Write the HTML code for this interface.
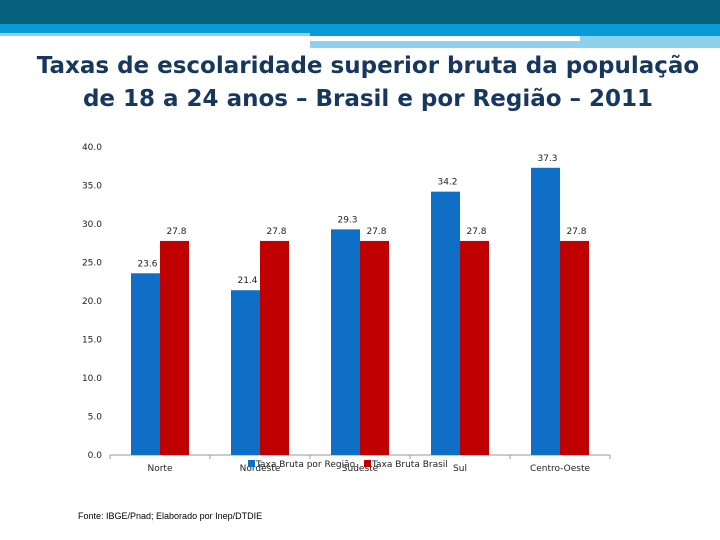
<!DOCTYPE html>
<html><head><meta charset="utf-8"><style>
body{margin:0;width:720px;height:540px;background:#fff;overflow:hidden;position:relative;font-family:"DejaVu Sans","Liberation Sans",sans-serif}
.t{position:absolute;left:8px;width:720px;text-align:center;color:#17375e;font-size:23px;font-weight:bold;letter-spacing:0px}
</style></head><body>
<div style="position:absolute;left:0;top:0;width:720px;height:24px;background:#05607b"></div>
<div style="position:absolute;left:0;top:24px;width:720px;height:9px;background:#0a9bd6"></div>
<div style="position:absolute;left:0;top:33px;width:310px;height:3px;background:#8fd0ec"></div>
<div style="position:absolute;left:310px;top:33px;width:410px;height:3px;background:#0a9bd6"></div>
<div style="position:absolute;left:310px;top:41px;width:270px;height:7px;background:#8fd0ec"></div>
<div style="position:absolute;left:580px;top:36px;width:140px;height:12px;background:#8fd0ec"></div>
<div style="position:absolute;left:310px;top:37px;width:175px;height:3px;background:#fff"></div>
<div class="t" style="top:53px">Taxas de escolaridade superior bruta da população</div>
<div class="t" style="top:86px">de 18 a 24 anos – Brasil e por Região – 2011</div>
<svg id="c" width="720" height="540" style="position:absolute;left:0;top:0"></svg>
<div style="position:absolute;left:78px;top:511px;font-family:'Liberation Sans',sans-serif;font-size:9px;color:#000">Fonte: IBGE/Pnad; Elaborado por Inep/DTDIE</div>
<script>
const categories=["Norte","Nordeste","Sudeste","Sul","Centro-Oeste"];
const regiao=[23.6,21.4,29.3,34.2,37.3];
const brasil=[27.8,27.8,27.8,27.8,27.8];
const ticks=[0,5,10,15,20,25,30,35,40];
const ns="http://www.w3.org/2000/svg",svg=document.getElementById('c');
const x0=110,x1=610,y0=455,y1=147,ymax=40;
const Y=v=>y0-(v/ymax)*(y0-y1);
const band=(x1-x0)/categories.length;
function mk(t,a,txt){const e=document.createElementNS(ns,t);for(const k in a)e.setAttribute(k,a[k]);if(txt!==undefined)e.textContent=txt;svg.appendChild(e);return e;}
const ax=mk('line',{x1:x0,y1:y0,x2:x1,y2:y0,stroke:'#999'});


ticks.forEach(t=>{
 const l=mk('text',{x:x0-8,y:Y(t)+3,'text-anchor':'end','font-size':9,'font-family':'DejaVu Sans,sans-serif',fill:'#222'},t.toFixed(1));
 
 
});
for(let i=0;i<=categories.length;i++){const tk=mk('line',{x1:x0+i*band,y1:y0,x2:x0+i*band,y2:y0+4,stroke:'#999'});
 
 }
const bw=29;
categories.forEach((c,i)=>{
 const cx=x0+band*i+band/2;
 const b1=mk('rect',{x:cx-bw,y:Y(regiao[i]),width:bw,height:y0-Y(regiao[i]),fill:'#0f6fc6'});
 
 
 const b2=mk('rect',{x:cx,y:Y(brasil[i]),width:bw,height:y0-Y(brasil[i]),fill:'#c00000'});
 
 
 const v1=mk('text',{x:cx-bw/2+2,y:Y(regiao[i])-7,'text-anchor':'middle','font-size':9,'font-family':'DejaVu Sans,sans-serif',fill:'#222'},regiao[i].toFixed(1));
 
 
 const v2=mk('text',{x:cx+bw/2+2,y:Y(brasil[i])-7,'text-anchor':'middle','font-size':9,'font-family':'DejaVu Sans,sans-serif',fill:'#222'},brasil[i].toFixed(1));
 
 
 const cl=mk('text',{x:cx,y:y0+16,'text-anchor':'middle','font-size':9,'font-family':'DejaVu Sans,sans-serif',fill:'#222'},c);
 
 
});
const lg1=mk('rect',{x:248,y:460,width:7,height:7,fill:'#0f6fc6'});


const lt1=mk('text',{x:256,y:467,'font-size':9,'font-family':'DejaVu Sans,sans-serif',fill:'#222'},'Taxa Bruta por Região');


const lg2=mk('rect',{x:364,y:460,width:7,height:7,fill:'#c00000'});


const lt2=mk('text',{x:372,y:467,'font-size':9,'font-family':'DejaVu Sans,sans-serif',fill:'#222'},'Taxa Bruta Brasil');


</script>
</body></html>
